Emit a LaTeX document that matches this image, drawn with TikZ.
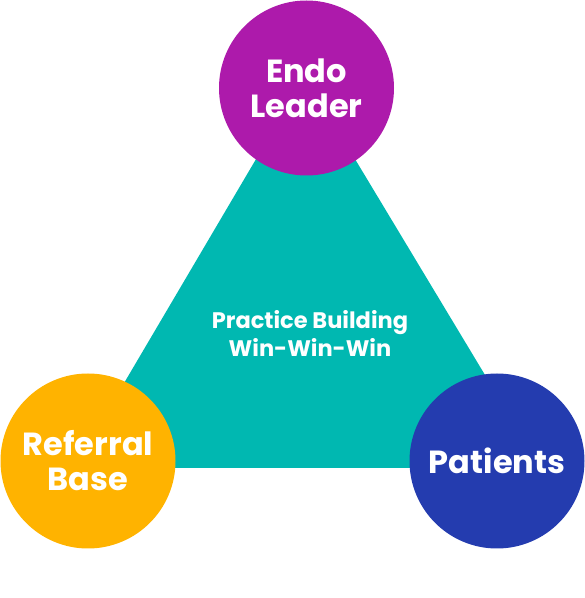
\documentclass[tikz,border=0pt]{standalone}
\usepackage{fontspec}
\setmainfont{Poppins}
\definecolor{teal1}{HTML}{00B8B1}
\definecolor{mag1}{HTML}{AD1AAB}
\definecolor{org1}{HTML}{FFB300}
\definecolor{blu1}{HTML}{243CAF}
\tikzset{
  bubble/.style={circle, minimum size=175pt, inner sep=0pt, text=white, align=center, font=\fontsize{32}{35}\selectfont\bfseries},
  midtext/.style={text=white, align=center, font=\fontsize{22.5}{28}\selectfont\bfseries}
}
\begin{document}
\begin{tikzpicture}[x=1pt,y=1pt]
\useasboundingbox (0,0) rectangle (585,598);
\fill[teal1] (305,522) -- (74,130) -- (541,130) -- cycle;
\node[midtext] (mid) at (310,265) {Practice Building\\Win-Win-Win};
\node[bubble, fill=mag1] (endo) at (306.5,510) {Endo\\Leader};
\node[bubble, fill=org1] (ref) at (88,137) {Referral\\Base};
\node[bubble, fill=blu1] (pat) at (497,137) {Patients};
\end{tikzpicture}
\end{document}
